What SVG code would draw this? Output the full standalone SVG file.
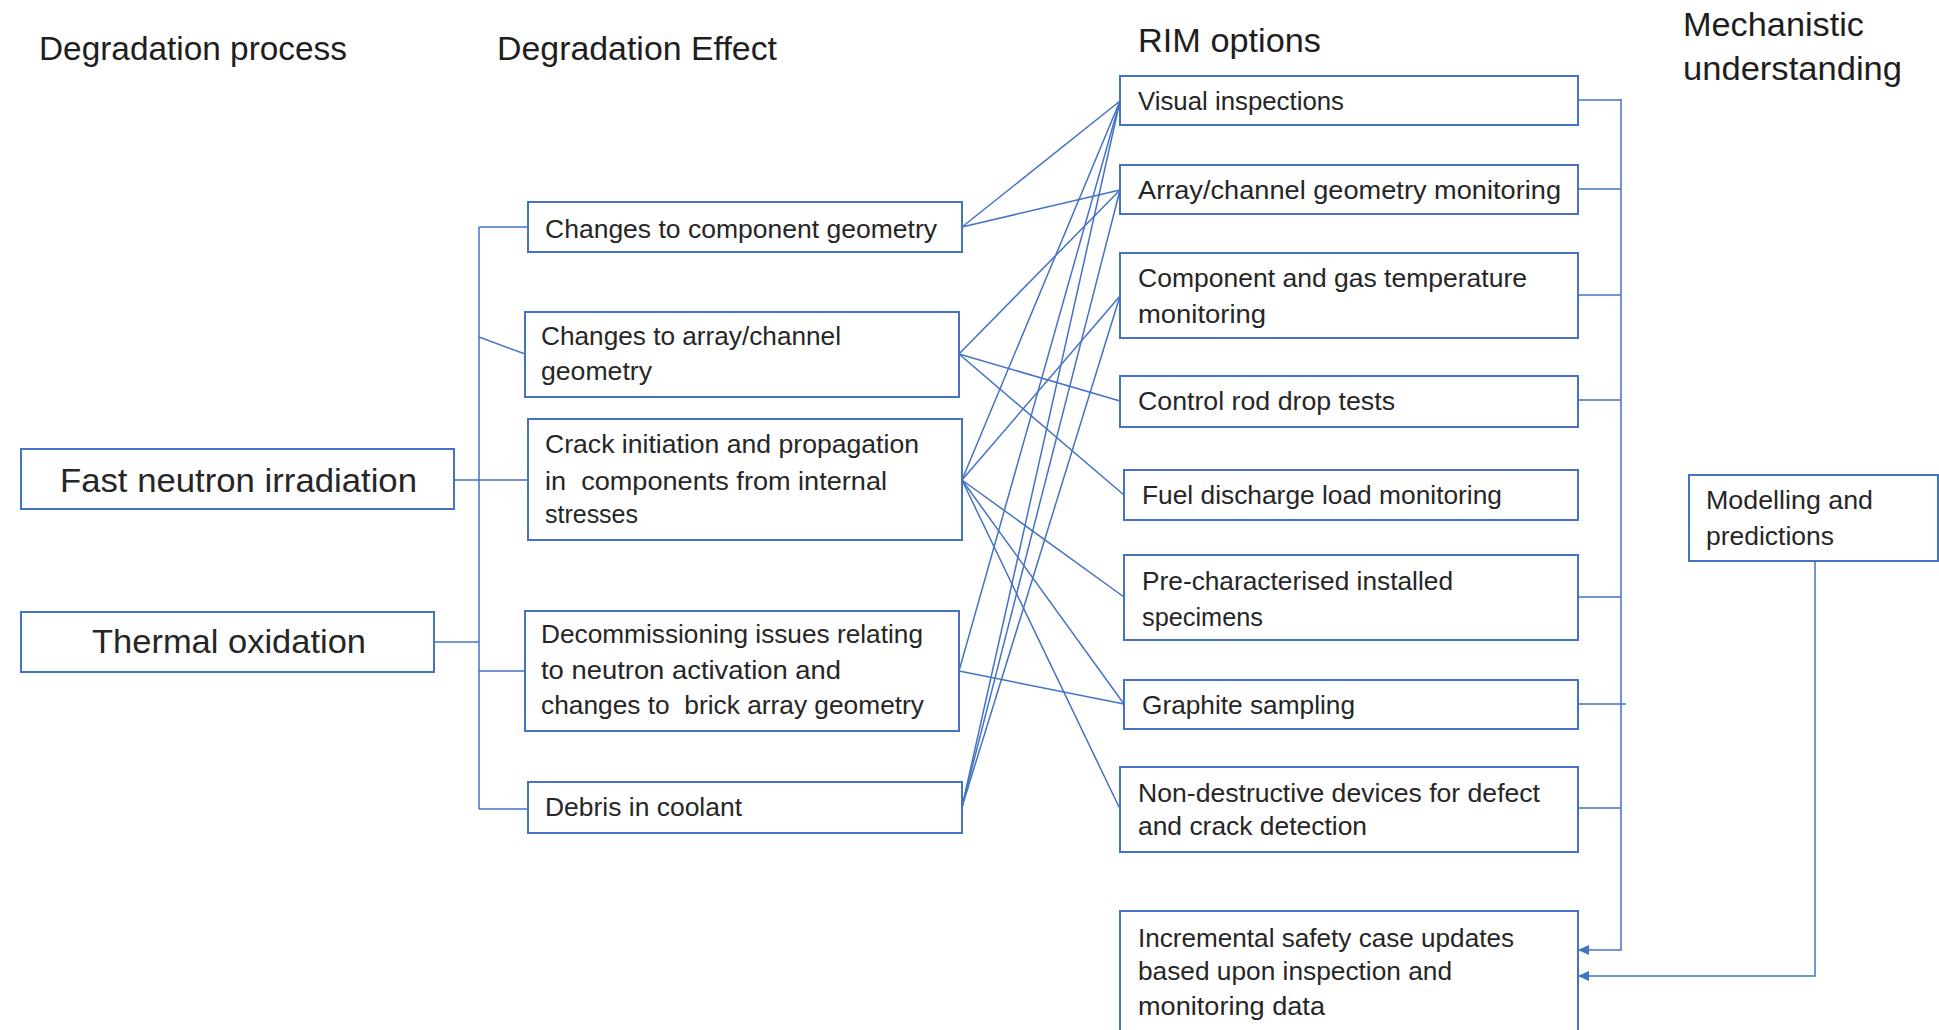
<svg xmlns="http://www.w3.org/2000/svg" width="1939" height="1030" viewBox="0 0 1939 1030">
<style>
  .box { fill: #ffffff; stroke: #4472C4; stroke-width: 2; }
  .t { font-family: "Liberation Sans", Arial, sans-serif; font-size: 26px; fill: #262626; }
  .big { font-size: 34px; }
  .h { font-family: "Liberation Sans", Arial, sans-serif; font-size: 33px; fill: #1e1e1e; }
  .conn { stroke: #4472C4; stroke-width: 1.5; fill: none; }
  .pre { white-space: pre; }
</style>
<defs>
  <marker id="arr" markerWidth="11" markerHeight="10" refX="10" refY="5" orient="auto" markerUnits="userSpaceOnUse">
    <path d="M0,0 L11,5 L0,10 z" fill="#4472C4"/>
  </marker>
</defs>
<rect x="0" y="0" width="1939" height="1030" fill="#ffffff"/>

<g id="headings">
  <text class="h" x="39" y="60" textLength="308" lengthAdjust="spacingAndGlyphs">Degradation process</text>
  <text class="h" x="497" y="60" textLength="280" lengthAdjust="spacingAndGlyphs">Degradation Effect</text>
  <text class="h" x="1138" y="52" textLength="183" lengthAdjust="spacingAndGlyphs">RIM options</text>
  <text class="h" x="1683" y="36" textLength="181" lengthAdjust="spacingAndGlyphs">Mechanistic</text>
  <text class="h" x="1683" y="80" textLength="219" lengthAdjust="spacingAndGlyphs">understanding</text>
</g>

<g id="connectors">
  <path class="conn" d="M479,227 V809"/>
  <path class="conn" d="M479,227 H528"/>
  <path class="conn" d="M479,337 L525,354"/>
  <path class="conn" d="M454,480 H528"/>
  <path class="conn" d="M434,642 H479"/>
  <path class="conn" d="M479,671 H525"/>
  <path class="conn" d="M479,809 H528"/>

  <path class="conn" d="M962,227 L1120,101"/>
  <path class="conn" d="M962,227 L1120,190"/>
  <path class="conn" d="M959,354 L1120,190"/>
  <path class="conn" d="M959,354 L1120,401"/>
  <path class="conn" d="M959,354 L1124,495"/>
  <path class="conn" d="M962,480 L1120,101"/>
  <path class="conn" d="M962,480 L1120,296"/>
  <path class="conn" d="M962,480 L1124,597"/>
  <path class="conn" d="M962,480 L1124,704"/>
  <path class="conn" d="M962,480 L1120,809"/>
  <path class="conn" d="M959,671 L1120,101"/>
  <path class="conn" d="M959,671 L1124,704"/>
  <path class="conn" d="M962,807 L1120,101"/>
  <path class="conn" d="M962,807 L1120,190"/>
  <path class="conn" d="M962,807 L1120,296"/>

  <path class="conn" d="M1578,100 H1621"/>
  <path class="conn" d="M1578,189 H1621"/>
  <path class="conn" d="M1578,295 H1621"/>
  <path class="conn" d="M1578,400 H1621"/>
  <path class="conn" d="M1578,597 H1621"/>
  <path class="conn" d="M1578,704 H1626"/>
  <path class="conn" d="M1578,808 H1621"/>
  <path class="conn" d="M1621,99 V950 H1579" marker-end="url(#arr)"/>
  <path class="conn" d="M1815,561 V976 H1579" marker-end="url(#arr)"/>
</g>

<g id="fast-neutron">
  <rect class="box" x="21" y="449" width="433" height="60"/>
  <text class="t big" x="60" y="492" textLength="357" lengthAdjust="spacingAndGlyphs">Fast neutron irradiation</text>
</g>
<g id="thermal-oxidation">
  <rect class="box" x="21" y="612" width="413" height="60"/>
  <text class="t big" x="92" y="653" textLength="274" lengthAdjust="spacingAndGlyphs">Thermal oxidation</text>
</g>

<g id="effect-component-geometry">
  <rect class="box" x="528" y="202" width="434" height="50"/>
  <text class="t" x="545" y="238" textLength="392" lengthAdjust="spacingAndGlyphs">Changes to component geometry</text>
</g>
<g id="effect-array-geometry">
  <rect class="box" x="525" y="312" width="434" height="85"/>
  <text class="t" x="541" y="345" textLength="300" lengthAdjust="spacingAndGlyphs">Changes to array/channel</text>
  <text class="t" x="541" y="380" textLength="111" lengthAdjust="spacingAndGlyphs">geometry</text>
</g>
<g id="effect-crack">
  <rect class="box" x="528" y="419" width="434" height="121"/>
  <text class="t" x="545" y="453" textLength="374" lengthAdjust="spacingAndGlyphs">Crack initiation and propagation</text>
  <text class="t pre" x="545" y="490" textLength="342" lengthAdjust="spacingAndGlyphs" xml:space="preserve">in  components from internal</text>
  <text class="t" x="545" y="523" textLength="93" lengthAdjust="spacingAndGlyphs">stresses</text>
</g>
<g id="effect-decommissioning">
  <rect class="box" x="525" y="611" width="434" height="120"/>
  <text class="t" x="541" y="643" textLength="382" lengthAdjust="spacingAndGlyphs">Decommissioning issues relating</text>
  <text class="t" x="541" y="679" textLength="300" lengthAdjust="spacingAndGlyphs">to neutron activation and</text>
  <text class="t pre" x="541" y="714" textLength="383" lengthAdjust="spacingAndGlyphs" xml:space="preserve">changes to  brick array geometry</text>
</g>
<g id="effect-debris">
  <rect class="box" x="528" y="782" width="434" height="51"/>
  <text class="t" x="545" y="816" textLength="197" lengthAdjust="spacingAndGlyphs">Debris in coolant</text>
</g>

<g id="rim-visual">
  <rect class="box" x="1120" y="76" width="458" height="49"/>
  <text class="t" x="1138" y="110" textLength="206" lengthAdjust="spacingAndGlyphs">Visual inspections</text>
</g>
<g id="rim-array-monitoring">
  <rect class="box" x="1120" y="165" width="458" height="49"/>
  <text class="t" x="1138" y="199" textLength="423" lengthAdjust="spacingAndGlyphs">Array/channel geometry monitoring</text>
</g>
<g id="rim-temperature">
  <rect class="box" x="1120" y="253" width="458" height="85"/>
  <text class="t" x="1138" y="287" textLength="389" lengthAdjust="spacingAndGlyphs">Component and gas temperature</text>
  <text class="t" x="1138" y="323" textLength="128" lengthAdjust="spacingAndGlyphs">monitoring</text>
</g>
<g id="rim-control-rod">
  <rect class="box" x="1120" y="376" width="458" height="51"/>
  <text class="t" x="1138" y="410" textLength="257" lengthAdjust="spacingAndGlyphs">Control rod drop tests</text>
</g>
<g id="rim-fuel-discharge">
  <rect class="box" x="1124" y="470" width="454" height="50"/>
  <text class="t" x="1142" y="504" textLength="360" lengthAdjust="spacingAndGlyphs">Fuel discharge load monitoring</text>
</g>
<g id="rim-specimens">
  <rect class="box" x="1124" y="555" width="454" height="85"/>
  <text class="t" x="1142" y="590" textLength="311" lengthAdjust="spacingAndGlyphs">Pre-characterised installed</text>
  <text class="t" x="1142" y="626" textLength="121" lengthAdjust="spacingAndGlyphs">specimens</text>
</g>
<g id="rim-graphite-sampling">
  <rect class="box" x="1124" y="680" width="454" height="49"/>
  <text class="t" x="1142" y="714" textLength="213" lengthAdjust="spacingAndGlyphs">Graphite sampling</text>
</g>
<g id="rim-ndt">
  <rect class="box" x="1120" y="767" width="458" height="85"/>
  <text class="t" x="1138" y="802" textLength="402" lengthAdjust="spacingAndGlyphs">Non-destructive devices for defect</text>
  <text class="t" x="1138" y="835" textLength="229" lengthAdjust="spacingAndGlyphs">and crack detection</text>
</g>
<g id="rim-safety-case">
  <rect class="box" x="1120" y="911" width="458" height="130"/>
  <text class="t" x="1138" y="947" textLength="376" lengthAdjust="spacingAndGlyphs">Incremental safety case updates</text>
  <text class="t" x="1138" y="980" textLength="314" lengthAdjust="spacingAndGlyphs">based upon inspection and</text>
  <text class="t" x="1138" y="1015" textLength="187" lengthAdjust="spacingAndGlyphs">monitoring data</text>
</g>

<g id="modelling">
  <rect class="box" x="1689" y="475" width="249" height="86"/>
  <text class="t" x="1706" y="509" textLength="167" lengthAdjust="spacingAndGlyphs">Modelling and</text>
  <text class="t" x="1706" y="545" textLength="128" lengthAdjust="spacingAndGlyphs">predictions</text>
</g>
</svg>
